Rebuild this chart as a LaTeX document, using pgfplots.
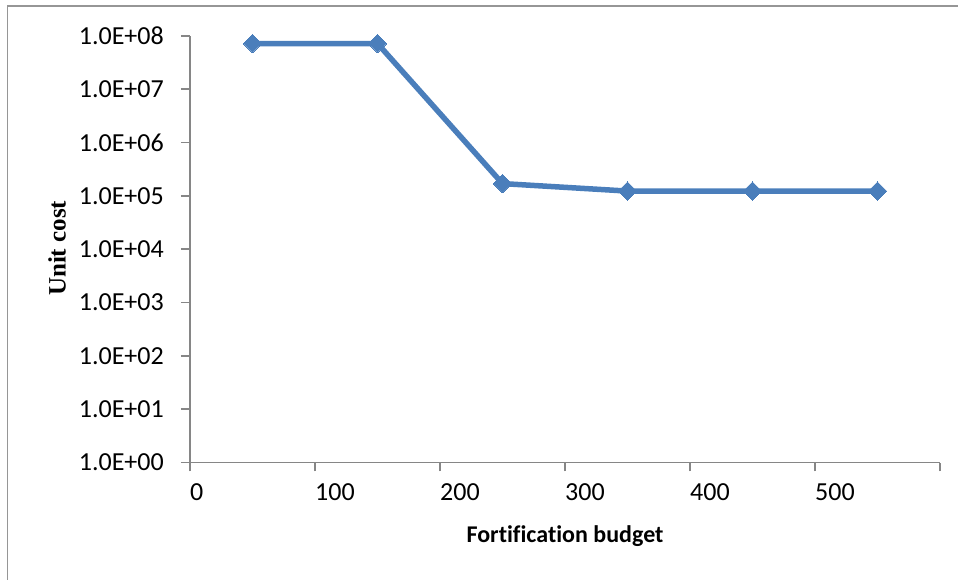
\documentclass[border=0pt]{standalone}
\usepackage{pgfplots}
\pgfplotsset{compat=1.18}
\usepackage{fontspec}
\setmainfont{Carlito}[Ligatures=NoCommon]
\newfontfamily\serifbold{Liberation Serif}
\definecolor{axgray}{RGB}{134,134,134}
\definecolor{framegray}{RGB}{150,150,150}
\definecolor{lineblue}{RGB}{74,126,187}
\begin{document}
\begin{tikzpicture}[x=1pt,y=1pt]
\useasboundingbox (0,0) rectangle (958,579);
\draw[framegray, line width=1.5pt] (7.5,-2) -- (7.5,573) -- (960,573);
\begin{axis}[
  at={(190pt,116.5pt)}, anchor=south west,
  scale only axis, width=750pt, height=426.6pt,
  xmin=0, xmax=600, ymode=log, ymin=1, ymax=1e8,
  axis x line=bottom, axis y line=left,
  axis line style={-, axgray, line width=1.5pt},
  tick align=outside, major tick length=9pt,
  tick style={axgray, line width=1.5pt},
  yminorticks=false, xminorticks=false,
  xtick={0,100,200,300,400,500,600},
  xticklabels={0,100,200,300,400,500,{}},
  ytick={1,10,100,1000,10000,100000,1000000,10000000,100000000},
  yticklabels={1.0E+00,1.0E+01,1.0E+02,1.0E+03,1.0E+04,1.0E+05,1.0E+06,1.0E+07,1.0E+08},
  ticklabel style={font=\fontsize{26}{30}\selectfont, text=black},
  xticklabel style={anchor=north west, inner sep=0pt, yshift=-12pt},
  yticklabel style={anchor=east, inner sep=0pt, xshift=-17pt},
  xlabel={\textbf{Fortification budget}},
  xlabel style={font=\fontsize{24}{28}\selectfont, at={(axis description cs:0.5,-0.172)}, anchor=center},
  ylabel={\serifbold\bfseries Unit cost},
  ylabel style={font=\fontsize{25}{29}\selectfont, at={(axis description cs:-0.1773,0.502)}, anchor=center, rotate=0},
  clip=false,
]
\addplot[lineblue, line width=5.5pt, mark=square*, mark size=6.5pt,
  mark options={rotate=45, fill=lineblue, draw=lineblue, line width=0pt}]
  coordinates {(50,7.2e7) (150,7.2e7) (250,1.7e5) (350,1.23e5) (450,1.23e5) (550,1.23e5)};
\end{axis}
\end{tikzpicture}
\end{document}
